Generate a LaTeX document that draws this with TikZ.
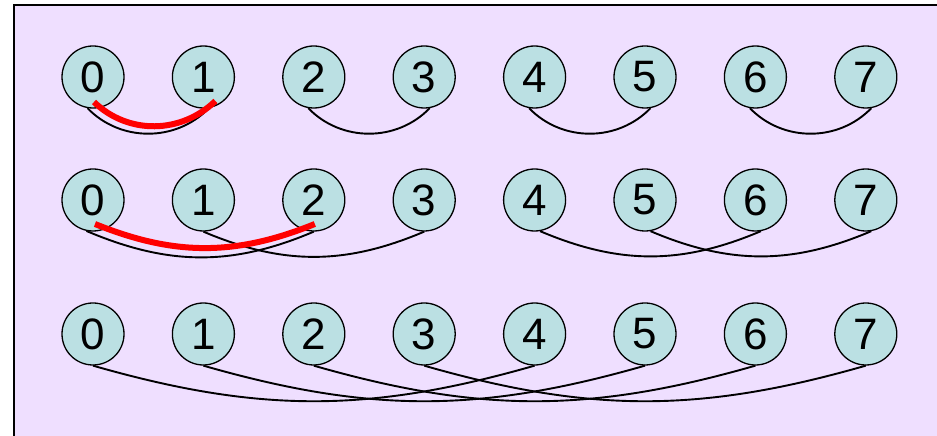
\documentclass[tikz,border=0pt]{standalone}
\usepackage{fontspec}
\setmainfont{Liberation Sans}
\usepackage{tikz}
\usetikzlibrary{positioning}
\definecolor{netlav}{RGB}{239,223,255}
\definecolor{netteal}{RGB}{187,224,227}
\definecolor{netred}{RGB}{255,0,0}

\begin{document}
\begin{tikzpicture}[x=1pt, y=1pt,
    num/.style={circle, draw, line width=1.3pt, fill=netteal, minimum size=62pt, inner sep=0pt, font=\fontsize{44}{44}\selectfont},
    link/.style={line width=1.9pt},
    hot/.style={line width=6pt, draw=netred}
]
\useasboundingbox (0,0) rectangle (937,436);
\fill[netlav] (14,0) rectangle (937,431);
\draw[line width=1.6pt] (14,0) -- (14,431) -- (937,431);

% Stage 1: neighbours
\foreach \i in {0,...,7} \node[num] (a\i) at (93+110.4*\i, 359) {\i};

\draw[link] (a0.260) to[out=-46, in=-134] (a1.280);
\draw[link] (a2.260) to[out=-46, in=-134] (a3.280);
\draw[link] (a4.260) to[out=-46, in=-134] (a5.280);
\draw[link] (a6.260) to[out=-46, in=-134] (a7.280);
\draw[hot] ([shift={(1,-25)}]a0.center) to[out=-44, in=-136] ([shift={(12,-24)}]a1.center);

% Stage 2: distance two
\foreach \i in {0,...,7} \node[num] (b\i) at (93+110.4*\i, 236) {\i};

\draw[link] (b0.258) to[out=-23, in=-157] (b2.south);
\draw[link] (b1.south) to[out=-23, in=-157] (b3.south);
\draw[link] (b4.280) to[out=-23, in=-157] (b6.280);
\draw[link] (b5.280) to[out=-23, in=-157] (b7.280);
\draw[hot] ([shift={(2,-24)}]b0.center) to[out=-22, in=-158] ([shift={(1,-24)}]b2.center);

% Stage 3: distance four
\foreach \i in {0,...,7} \node[num] (c\i) at (93+110.4*\i, 102) {\i};

\draw[link] (c0.south) to[out=-16, in=-164] (c4.south);
\draw[link] (c1.south) to[out=-16, in=-164] (c5.south);
\draw[link] (c2.south) to[out=-16, in=-164] (c6.south);
\draw[link] (c3.south) to[out=-16, in=-164] (c7.south);

\end{tikzpicture}
\end{document}
